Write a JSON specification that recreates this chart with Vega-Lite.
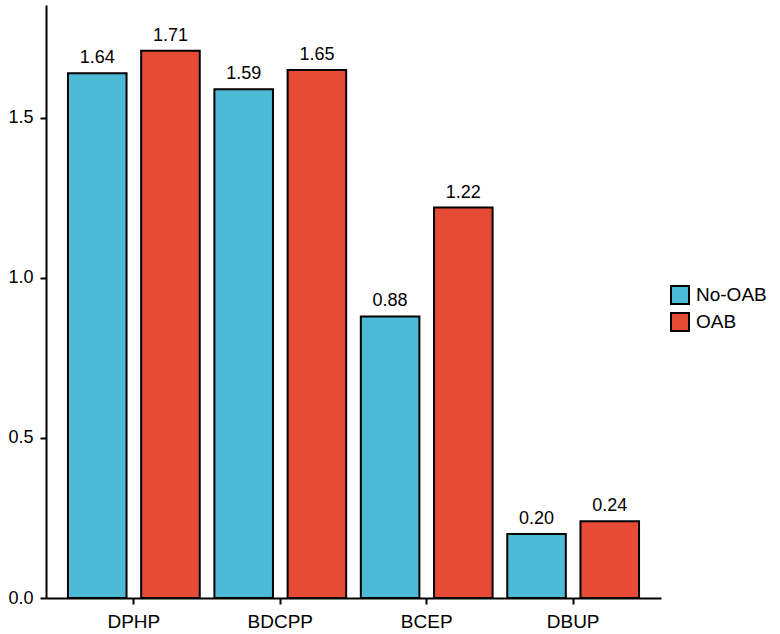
{
  "$schema": "https://vega.github.io/schema/vega-lite/v6.json",
  "autosize": {"type": "none"},
  "width": 615,
  "height": 593,
  "padding": {"left": 46, "top": 5, "right": 119, "bottom": 36},
  "background": "white",
  "config": {
    "font": "Liberation Sans",
    "view": {"stroke": null}
  },
  "data": {
    "values": [
      {"compound": "DPHP", "group": "No-OAB", "value": 1.64},
      {"compound": "DPHP", "group": "OAB", "value": 1.71},
      {"compound": "BDCPP", "group": "No-OAB", "value": 1.59},
      {"compound": "BDCPP", "group": "OAB", "value": 1.65},
      {"compound": "BCEP", "group": "No-OAB", "value": 0.88},
      {"compound": "BCEP", "group": "OAB", "value": 1.22},
      {"compound": "DBUP", "group": "No-OAB", "value": 0.20},
      {"compound": "DBUP", "group": "OAB", "value": 0.24}
    ]
  },
  "encoding": {
    "x": {
      "field": "compound",
      "type": "nominal",
      "sort": ["DPHP", "BDCPP", "BCEP", "DBUP"],
      "scale": {"paddingInner": 0, "paddingOuter": 0.1},
      "axis": {
        "title": null,
        "labelAngle": 0,
        "labelFont": "Liberation Sans",
        "labelFontSize": 19,
        "labelColor": "black",
        "labelPadding": 8,
        "domainColor": "black",
        "domainWidth": 2,
        "tickColor": "black",
        "tickWidth": 2,
        "tickSize": 6
      }
    },
    "xOffset": {
      "field": "group",
      "type": "nominal",
      "sort": ["No-OAB", "OAB"],
      "scale": {"paddingInner": 0.2, "paddingOuter": 0.1}
    },
    "y": {
      "field": "value",
      "type": "quantitative",
      "scale": {"domain": [0, 1.853], "nice": false, "zero": true},
      "axis": {
        "title": null,
        "values": [0, 0.5, 1, 1.5],
        "format": ".1f",
        "grid": false,
        "labelFont": "Liberation Sans",
        "labelFontSize": 18,
        "labelColor": "black",
        "labelPadding": 7,
        "domainColor": "black",
        "domainWidth": 2,
        "tickColor": "black",
        "tickWidth": 2,
        "tickSize": 6
      }
    }
  },
  "layer": [
    {
      "mark": {"type": "bar", "stroke": "black", "strokeWidth": 2},
      "encoding": {
        "color": {
          "field": "group",
          "type": "nominal",
          "sort": ["No-OAB", "OAB"],
          "scale": {"domain": ["No-OAB", "OAB"], "range": ["#4DBBD5", "#E64B35"]},
          "legend": {
            "title": null,
            "orient": "none",
            "legendX": 624,
            "legendY": 280,
            "symbolType": "square",
            "symbolSize": 324,
            "symbolStrokeColor": "black",
            "symbolStrokeWidth": 2,
            "symbolOpacity": 1,
            "labelFont": "Liberation Sans",
            "labelFontSize": 19,
            "labelColor": "black",
            "labelOffset": 6,
            "rowPadding": 1,
            "padding": 0
          }
        }
      }
    },
    {
      "mark": {"type": "text", "baseline": "bottom", "dy": -6, "font": "Liberation Sans", "fontSize": 18, "color": "black"},
      "encoding": {
        "text": {"field": "value", "type": "quantitative", "format": ".2f"}
      }
    }
  ]
}
